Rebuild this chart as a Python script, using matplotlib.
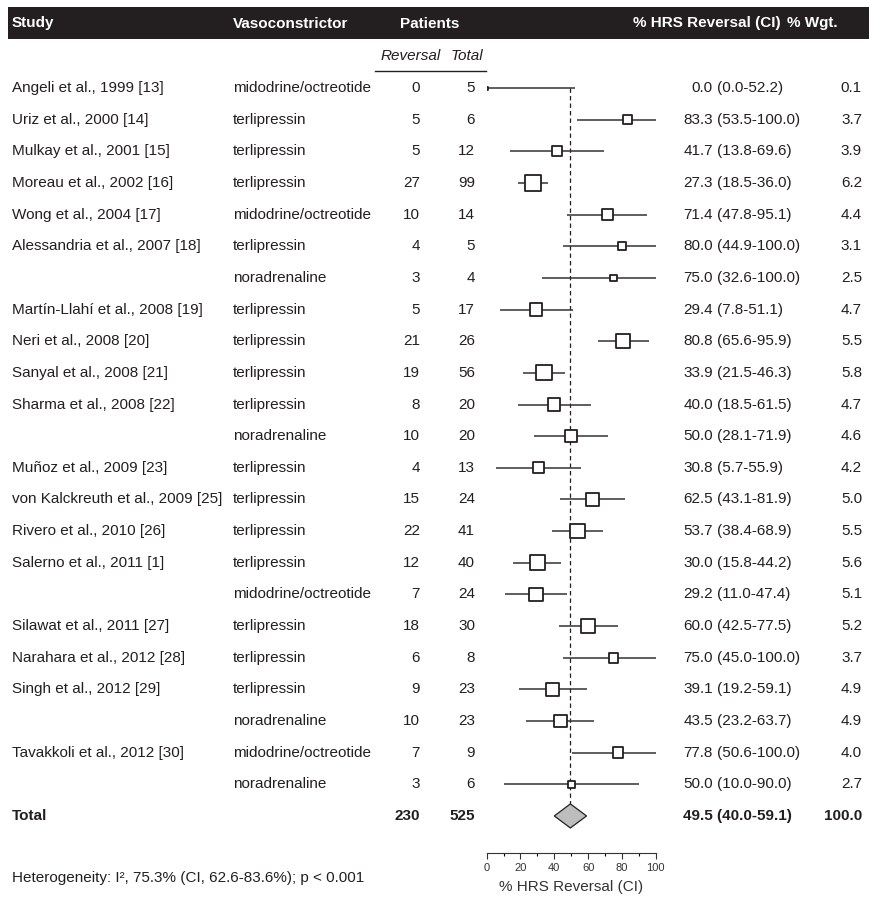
import matplotlib
matplotlib.use("Agg")
import matplotlib.pyplot as plt
import matplotlib.transforms as mtransforms
from matplotlib.patches import Rectangle

plt.rcParams['font.family'] = ['Liberation Sans', 'DejaVu Sans']

studies = ["Angeli et al., 1999 [13]", "Uriz et al., 2000 [14]", "Mulkay et al., 2001 [15]",
           "Moreau et al., 2002 [16]", "Wong et al., 2004 [17]", "Alessandria et al., 2007 [18]", "",
           "Martín-Llahí et al., 2008 [19]", "Neri et al., 2008 [20]", "Sanyal et al., 2008 [21]",
           "Sharma et al., 2008 [22]", "", "Muñoz et al., 2009 [23]",
           "von Kalckreuth et al., 2009 [25]", "Rivero et al., 2010 [26]", "Salerno et al., 2011 [1]", "",
           "Silawat et al., 2011 [27]", "Narahara et al., 2012 [28]", "Singh et al., 2012 [29]", "",
           "Tavakkoli et al., 2012 [30]", ""]
drugs = ["midodrine/octreotide", "terlipressin", "terlipressin", "terlipressin", "midodrine/octreotide",
         "terlipressin", "noradrenaline", "terlipressin", "terlipressin", "terlipressin", "terlipressin",
         "noradrenaline", "terlipressin", "terlipressin", "terlipressin", "terlipressin",
         "midodrine/octreotide", "terlipressin", "terlipressin", "terlipressin", "noradrenaline",
         "midodrine/octreotide", "noradrenaline"]
reversal = [0, 5, 5, 27, 10, 4, 3, 5, 21, 19, 8, 10, 4, 15, 22, 12, 7, 18, 6, 9, 10, 7, 3]
total = [5, 6, 12, 99, 14, 5, 4, 17, 26, 56, 20, 20, 13, 24, 41, 40, 24, 30, 8, 23, 23, 9, 6]
est = [0.0, 83.3, 41.7, 27.3, 71.4, 80.0, 75.0, 29.4, 80.8, 33.9, 40.0, 50.0, 30.8, 62.5, 53.7,
       30.0, 29.2, 60.0, 75.0, 39.1, 43.5, 77.8, 50.0]
lo = [0.0, 53.5, 13.8, 18.5, 47.8, 44.9, 32.6, 7.8, 65.6, 21.5, 18.5, 28.1, 5.7, 43.1, 38.4,
      15.8, 11.0, 42.5, 45.0, 19.2, 23.2, 50.6, 10.0]
hi = [52.2, 100.0, 69.6, 36.0, 95.1, 100.0, 100.0, 51.1, 95.9, 46.3, 61.5, 71.9, 55.9, 81.9, 68.9,
      44.2, 47.4, 77.5, 100.0, 59.1, 63.7, 100.0, 90.0]
wgt = [0.1, 3.7, 3.9, 6.2, 4.4, 3.1, 2.5, 4.7, 5.5, 5.8, 4.7, 4.6, 4.2, 5.0, 5.5, 5.6, 5.1, 5.2,
       3.7, 4.9, 4.9, 4.0, 2.7]
tot_rev, tot_n = 230, 525
tot_est, tot_lo, tot_hi, tot_wgt = 49.5, 40.0, 59.1, 100.0
hetero = "Heterogeneity: I\u00b2, 75.3% (CI, 62.6-83.6%); p < 0.001"

W, H = 870, 901
ink = '#231f20'
fig = plt.figure(figsize=(W / 100, H / 100), dpi=100)

# forest axes: x 0..100 spans px 486.7..655.7, rows every 31.65 px from y=88
row0, step = 88.0, 31.65
top_px, bot_px = 7, 853
ax = fig.add_axes([486.7 / W, 1 - bot_px / H, 169.0 / W, (bot_px - top_px) / H])
ax.set_xlim(0, 100)
ax.set_ylim((bot_px - row0) / step, (top_px - row0) / step)
ax.patch.set_visible(False)
for s in ['top', 'left', 'right']:
    ax.spines[s].set_visible(False)
ax.spines['bottom'].set_color('#333333')
ax.spines['bottom'].set_linewidth(0.8)
ax.set_yticks([])
ax.set_xticks([0, 20, 40, 60, 80, 100])
ax.set_xticks([10, 30, 50, 70, 90], minor=True)
ax.tick_params(axis='x', which='major', length=4, width=0.8, labelsize=8, pad=3, colors='#333333')
ax.tick_params(axis='x', which='minor', length=2.5, width=0.8)
ax.set_xlabel("% HRS Reversal (CI)", fontsize=11, color='#333333', labelpad=5)

rows = list(range(len(est)))
n = len(est)
dh = 0.38  # diamond half height in rows

ax.vlines(tot_est, 0, n - dh, colors=ink, linewidth=0.9, linestyles=(0, (3.5, 2.5)), zorder=1)
ax.hlines(rows, lo, hi, colors='#333333', linewidth=1.1, zorder=2)
sides = [max(2.6 * w, 3.0) * 0.72 for w in wgt]
ax.scatter(est, rows, s=[sd ** 2 for sd in sides], marker='s', facecolor='white',
           edgecolor=ink, linewidth=1.3, zorder=3)
ax.fill([tot_lo, tot_est, tot_hi, tot_est], [n, n - dh, n, n + dh],
        facecolor='#bdbdbd', edgecolor=ink, linewidth=0.9, zorder=3)

# header band
fig.patches.append(Rectangle((8 / W, 1 - 39 / H), (W - 8) / W, 32 / H,
                             transform=fig.transFigure, facecolor=ink, edgecolor='none'))
hy = 1 - 23.5 / H
hk = dict(color='white', fontweight='bold', fontsize=11, va='center', transform=fig.transFigure)
fig.text(12 / W, hy, "Study", ha='left', **hk)
fig.text(233 / W, hy, "Vasoconstrictor", ha='left', **hk)
fig.text(430 / W, hy, "Patients", ha='center', **hk)
fig.text(781 / W, hy, "% HRS Reversal (CI)", ha='right', **hk)
fig.text(787 / W, hy, "% Wgt.", ha='left', **hk)

tr = mtransforms.blended_transform_factory(fig.transFigure, ax.transData)
sub_y = (56 - row0) / step
fig.text(381 / W, sub_y, "Reversal", style='italic', fontsize=11, color=ink, va='center', transform=tr)
fig.text(483 / W, sub_y, "Total", style='italic', fontsize=11, color=ink, va='center', ha='right', transform=tr)
ul = (71 - row0) / step
fig.add_artist(plt.Line2D([375 / W, 486 / W], [ul, ul], color=ink, linewidth=1.0, transform=tr))

tk = dict(fontsize=11, color=ink, va='center', transform=tr)
for i in rows:
    fig.text(12 / W, i, studies[i], ha='left', **tk)
    fig.text(233 / W, i, drugs[i], ha='left', **tk)
    fig.text(420 / W, i, str(reversal[i]), ha='right', **tk)
    fig.text(475 / W, i, str(total[i]), ha='right', **tk)
    fig.text(712.8 / W, i, f"{est[i]:.1f}", ha='right', **tk)
    fig.text(717 / W, i, f"({lo[i]:.1f}-{hi[i]:.1f})", ha='left', **tk)
    fig.text(862 / W, i, f"{wgt[i]:.1f}", ha='right', **tk)

bk = dict(tk, fontweight='bold')
fig.text(12 / W, n, "Total", ha='left', **bk)
fig.text(420 / W, n, str(tot_rev), ha='right', **bk)
fig.text(475 / W, n, str(tot_n), ha='right', **bk)
fig.text(683 / W, n, f"{tot_est:.1f} ({tot_lo:.1f}-{tot_hi:.1f})", ha='left', **bk)
fig.text(862 / W, n, f"{tot_wgt:.1f}", ha='right', **bk)

fig.text(12 / W, 1 - 878 / H, hetero, fontsize=11, color=ink, va='center')

fig.savefig("out.png", dpi=100)
